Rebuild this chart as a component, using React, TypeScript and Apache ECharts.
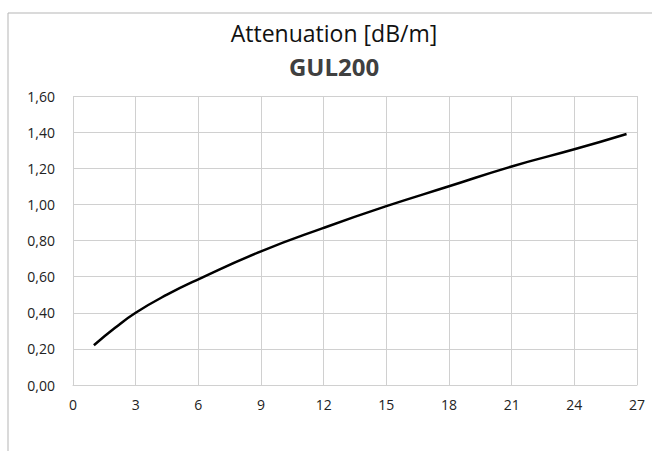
import React, { useEffect, useRef } from "react";
import * as echarts from "echarts";

const frequencies = [1, 2, 3, 4.5, 6, 9, 12, 15, 18, 21, 24, 26.5];
const attenuation = [0.22, 0.315, 0.4, 0.5, 0.585, 0.74, 0.87, 0.99, 1.1, 1.21, 1.305, 1.39];
const titleText = "Attenuation [dB/m]";
const subtitleText = "GUL200";

export default function App() {
  const ref = useRef<HTMLDivElement>(null);
  useEffect(() => {
    if (!ref.current) return;
    const chart = echarts.init(ref.current, undefined, { renderer: "svg" });
    const font = "'Open Sans', 'DejaVu Sans', sans-serif";
    chart.setOption({
      animation: false,
      backgroundColor: "#fff",
      graphic: [
        {
          type: "rect",
          shape: { x: 8, y: 13, width: 800, height: 600 },
          style: { fill: "none", stroke: "#b5b5b5", lineWidth: 1 },
          silent: true,
          z: -1,
        },
      ],
      title: [
        {
          text: titleText,
          left: 334,
          top: 20,
          padding: 0,
          textAlign: "center",
          textStyle: { fontFamily: font, fontSize: 23, lineHeight: 26, fontWeight: "normal", color: "#111" },
        },
        {
          text: subtitleText,
          left: 334,
          top: 53,
          padding: 0,
          textAlign: "center",
          textStyle: { fontFamily: font, fontSize: 24, lineHeight: 26, fontWeight: "bold", color: "#404040" },
        },
      ],
      grid: { left: 73, right: 15, top: 96, bottom: 66, containLabel: false },
      xAxis: {
        type: "value",
        min: 0,
        max: 27,
        interval: 3,
        axisLine: { show: true, lineStyle: { color: "#d0d0d0" } },
        axisTick: { show: false },
        splitLine: { show: true, lineStyle: { color: "#d0d0d0" } },
        axisLabel: { fontFamily: font, fontSize: 14, color: "#222", margin: 12 },
      },
      yAxis: {
        type: "value",
        min: 0,
        max: 1.6,
        interval: 0.2,
        axisLine: { show: false },
        axisTick: { show: false },
        splitLine: { show: true, lineStyle: { color: "#d0d0d0" } },
        axisLabel: {
          fontFamily: font,
          fontSize: 14,
          color: "#222",
          margin: 18,
          formatter: (v: number) => v.toFixed(2).replace(".", ","),
        },
      },
      series: [
        {
          type: "line",
          data: frequencies.map((f, i) => [f, attenuation[i]]),
          smooth: true,
          showSymbol: false,
          lineStyle: { color: "#000", width: 2.5 },
        },
      ],
    });
    return () => chart.dispose();
  }, []);
  return <div ref={ref} style={{ width: 652, height: 451, position: "absolute", left: 0, top: 0 }} />;
}
